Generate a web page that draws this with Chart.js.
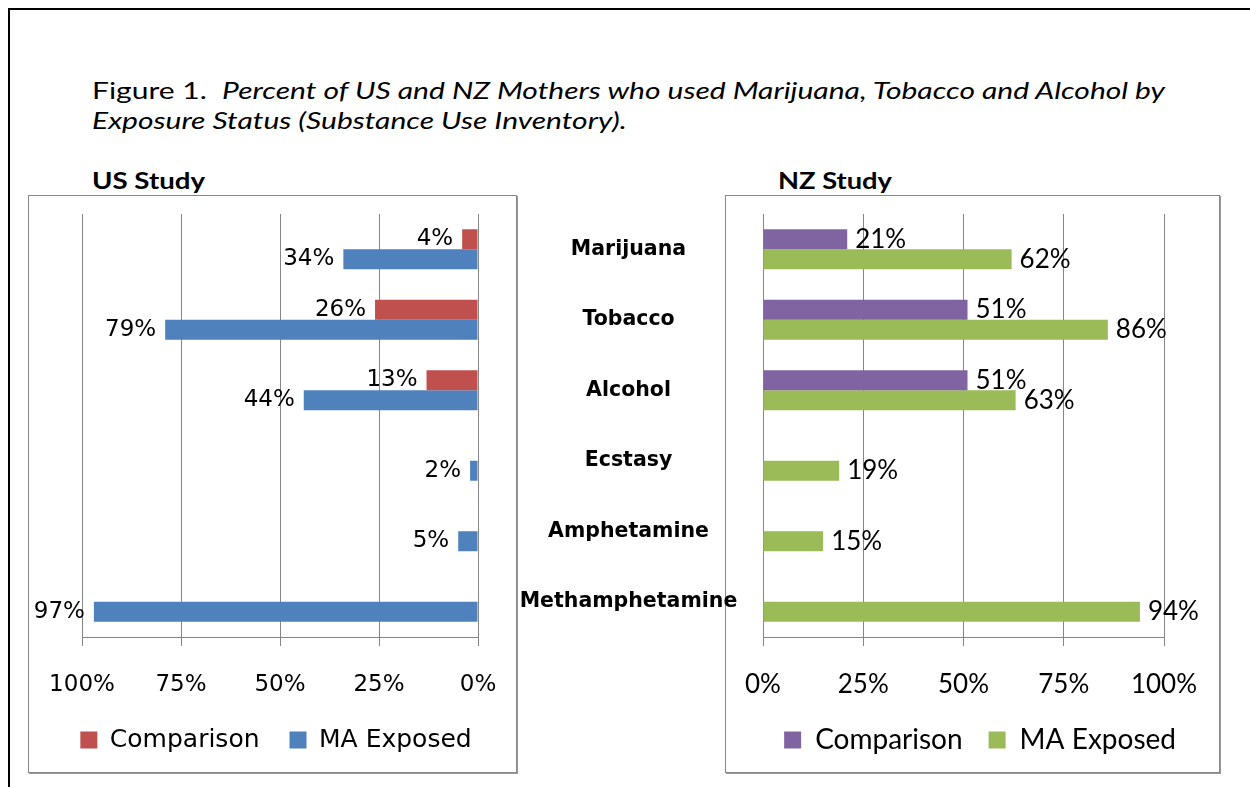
<!DOCTYPE html>
<html>
<head>
<meta charset="utf-8">
<script src="https://cdn.jsdelivr.net/npm/chart.js@4.4.1/dist/chart.umd.min.js"></script>
<style>
  body { margin: 0; background: #fff; width: 1250px; height: 787px; overflow: hidden; position: relative; font-family: Lato, sans-serif; }
  .frame { position: absolute; left: 8px; top: 8px; width: 1300px; height: 900px; border-left: 2px solid #000; border-top: 2px solid #000; }
  .title { position: absolute; left: 92px; top: 74.5px; font-size: 23px; line-height: 30.5px; color: #000; white-space: nowrap; transform-origin: 0 0; }
  .study { position: absolute; top: 165px; font-size: 23px; line-height: 30px; font-weight: bold; white-space: nowrap; transform-origin: 0 0; }
  .panel { position: absolute; top: 195px; height: 576px; border: 1px solid #888; box-shadow: 1px 1px 0 #999; }
  canvas { position: absolute; }
</style>
</head>
<body>
<div class="frame"></div>
<div class="title" id="title"><span id="titleLine">Figure 1.&nbsp; <i>Percent of US and NZ Mothers who used Marijuana, Tobacco and Alcohol by</i></span><br><i>Exposure Status (Substance Use Inventory).</i></div>
<div class="study" id="usTitle" style="left:92px">US Study</div>
<div class="study" id="nzTitle" style="left:778px">NZ Study</div>
<div class="panel" style="left:28px; width:487px"></div>
<div class="panel" style="left:725px; width:493px"></div>
<canvas id="usChart" width="488" height="576" style="left:28px; top:196px"></canvas>
<canvas id="nzChart" width="750" height="576" style="left:500px; top:196px"></canvas>
<script>
// Data
const categories = ['Marijuana', 'Tobacco', 'Alcohol', 'Ecstasy', 'Amphetamine', 'Methamphetamine'];
const seriesNames = ['Comparison', 'MA Exposed'];
const usComparison = [4, 26, 13, null, null, null];
const usExposed = [34, 79, 44, 2, 5, 97];
const nzComparison = [21, 51, 51, null, null, null];
const nzExposed = [62, 86, 63, 19, 15, 94];
const percentTicks = [0, 25, 50, 75, 100];

const GRID = '#868686';

// stretch the heading text to the width it has in the figure
function stretchTo(el, measureEl, target) {
    el.style.transform = 'scaleX(' + (target / measureEl.getBoundingClientRect().width) + ')';
}
stretchTo(document.getElementById('title'), document.getElementById('titleLine'), 1073);
stretchTo(document.getElementById('usTitle'), document.getElementById('usTitle'), 113);
stretchTo(document.getElementById('nzTitle'), document.getElementById('nzTitle'), 114);

// value labels at the end of each bar
const barLabels = {
    id: 'barLabels',
    afterDatasetsDraw(chart, args, opts) {
        const ctx = chart.ctx;
        ctx.save();
        ctx.font = opts.font;
        ctx.fillStyle = '#000';
        ctx.textBaseline = 'middle';
        ctx.textAlign = opts.side === 'left' ? 'right' : 'left';
        chart.data.datasets.forEach((ds, i) => {
            chart.getDatasetMeta(i).data.forEach((bar, j) => {
                const v = ds.data[j];
                if (v === null) return;
                const x = opts.side === 'left' ? bar.x - opts.gap : bar.x + opts.gap;
                ctx.fillText(v + '%', x, bar.y);
            });
        });
        ctx.restore();
    }
};

// invisible side axis, only used to reserve room
function spacerAxis(position, width) {
    return {
        type: 'category',
        position: position,
        display: true,
        ticks: { display: false },
        grid: { display: false, drawTicks: false },
        border: { display: false },
        afterFit(scale) { scale.width = width; }
    };
}

function xAxis(reverse, font, pad, height) {
    return {
        type: 'linear',
        min: percentTicks[0],
        max: percentTicks[percentTicks.length - 1],
        reverse: reverse,
        afterBuildTicks(scale) { scale.ticks = percentTicks.map(v => ({ value: v })); },
        afterFit(scale) { scale.height = height; },
        ticks: {
            color: '#000',
            font: font,
            padding: pad,
            maxRotation: 0,
            callback: v => v + '%'
        },
        grid: { color: GRID, tickColor: GRID, tickLength: 9, lineWidth: 1 },
        border: { color: GRID, width: 1 }
    };
}

// US chart (mirrored)
new Chart(document.getElementById('usChart'), {
    type: 'bar',
    data: {
        labels: categories,
        datasets: [
            { label: seriesNames[0], data: usComparison, backgroundColor: '#C0504D', borderWidth: 0 },
            { label: seriesNames[1], data: usExposed, backgroundColor: '#4F81BD', borderWidth: 0 }
        ]
    },
    options: {
        indexAxis: 'y',
        responsive: false,
        animation: false,
        layout: { padding: { left: 8, right: 0, top: 18, bottom: 9.5 } },
        datasets: { bar: { categoryPercentage: 0.567, barPercentage: 1 } },
        scales: {
            x: xAxis(true, { family: 'DejaVu Sans', size: 23 }, 25, 60.5),
            y: spacerAxis('left', 46),
            yr: spacerAxis('right', 38)
        },
        plugins: {
            legend: {
                position: 'bottom',
                align: 'center',
                labels: { boxWidth: 17, boxHeight: 17, padding: 30, color: '#000', font: { family: 'DejaVu Sans', size: 25 } }
            },
            tooltip: { enabled: false },
            barLabels: { side: 'left', gap: 9, font: '23px "DejaVu Sans"' }
        }
    },
    plugins: [barLabels]
});

// NZ chart, its y axis carries the category names in the middle column
const catFont = { family: 'DejaVu Sans', size: 20.5, weight: 'bold' };
const mctx = document.createElement('canvas').getContext('2d');
mctx.font = 'bold 20.5px "DejaVu Sans"';
const widest = Math.max(...categories.map(c => mctx.measureText(c).width));
const NZ_PLOT_X = 263;               // 0% line inside the canvas
const labelGap = NZ_PLOT_X - 128.5 - widest / 2;

new Chart(document.getElementById('nzChart'), {
    type: 'bar',
    data: {
        labels: categories,
        datasets: [
            { label: seriesNames[0], data: nzComparison, backgroundColor: '#8064A2', borderWidth: 0 },
            { label: seriesNames[1], data: nzExposed, backgroundColor: '#9BBB59', borderWidth: 0 }
        ]
    },
    options: {
        indexAxis: 'y',
        responsive: false,
        animation: false,
        layout: { padding: { left: 0, right: 48, top: 18, bottom: 8 } },
        datasets: { bar: { categoryPercentage: 0.567, barPercentage: 1 } },
        scales: {
            x: xAxis(false, { family: 'Lato', size: 26 }, 23.4, 63),
            y: {
                type: 'category',
                position: 'left',
                ticks: { color: '#000', font: catFont, crossAlign: 'center', padding: 0 },
                // hidden tick marks only push the names away from the plot
                grid: { display: false, drawTicks: true, tickLength: labelGap },
                border: { display: false },
                afterFit(scale) { scale.width = NZ_PLOT_X; }
            },
            yr: spacerAxis('right', 38)
        },
        plugins: {
            legend: {
                position: 'bottom',
                align: 'end',
                labels: { boxWidth: 17, boxHeight: 17, padding: 26, color: '#000', font: { family: 'Lato', size: 28 } }
            },
            tooltip: { enabled: false },
            barLabels: { side: 'right', gap: 8, font: '26px Lato' }
        }
    },
    plugins: [barLabels]
});
</script>
</body>
</html>
